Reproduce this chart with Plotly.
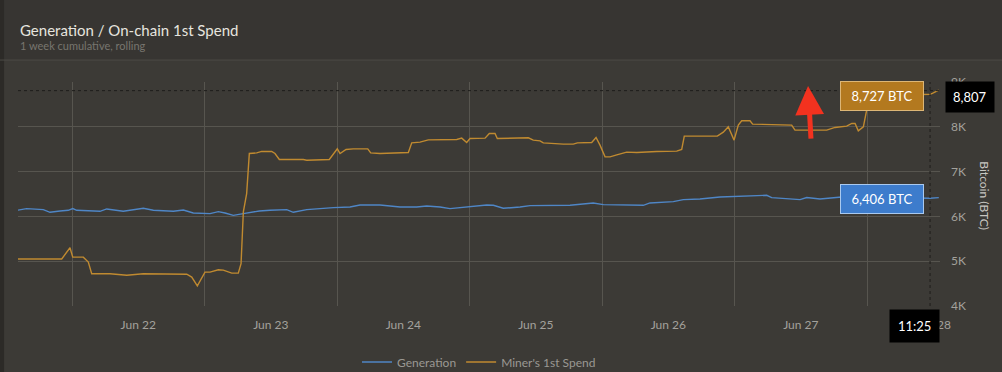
import plotly.graph_objects as go

# ---------------- data ----------------
spend_time = [
    "2023-06-21 14:00", "2023-06-21 22:08", "2023-06-21 23:38", "2023-06-22 00:08", "2023-06-22 02:03",
    "2023-06-22 02:57", "2023-06-22 03:34", "2023-06-22 06:53", "2023-06-22 09:55", "2023-06-22 12:55",
    "2023-06-22 20:47", "2023-06-22 21:41", "2023-06-22 22:42", "2023-06-23 00:05", "2023-06-23 01:00",
    "2023-06-23 02:30", "2023-06-23 03:24", "2023-06-23 04:56", "2023-06-23 06:07", "2023-06-23 06:37",
    "2023-06-23 07:02", "2023-06-23 07:38", "2023-06-23 08:07", "2023-06-23 09:27", "2023-06-23 10:21",
    "2023-06-23 12:10", "2023-06-23 12:46", "2023-06-23 13:33", "2023-06-23 17:54", "2023-06-23 18:31",
    "2023-06-23 22:36", "2023-06-24 00:03", "2023-06-24 00:33", "2023-06-24 01:38", "2023-06-24 02:57",
    "2023-06-24 05:34", "2023-06-24 06:06", "2023-06-24 07:47", "2023-06-24 12:55", "2023-06-24 13:32",
    "2023-06-24 15:02", "2023-06-24 16:32", "2023-06-24 21:41", "2023-06-24 22:35", "2023-06-24 23:29",
    "2023-06-25 00:05", "2023-06-25 02:49", "2023-06-25 03:35", "2023-06-25 04:37", "2023-06-25 05:02",
    "2023-06-25 10:39", "2023-06-25 11:33", "2023-06-25 12:46", "2023-06-25 13:22", "2023-06-25 16:59",
    "2023-06-25 18:48", "2023-06-25 19:32", "2023-06-25 22:08", "2023-06-25 22:55", "2023-06-25 23:38",
    "2023-06-26 00:33", "2023-06-26 01:27", "2023-06-26 02:40", "2023-06-26 04:28", "2023-06-26 06:17",
    "2023-06-26 09:54", "2023-06-26 13:32", "2023-06-26 14:26", "2023-06-26 14:54", "2023-06-26 15:38",
    "2023-06-26 20:53", "2023-06-26 21:58", "2023-06-26 22:52", "2023-06-26 23:55", "2023-06-27 00:41",
    "2023-06-27 01:18", "2023-06-27 02:48", "2023-06-27 03:17", "2023-06-27 10:21", "2023-06-27 10:57",
    "2023-06-27 16:42", "2023-06-27 18:12", "2023-06-27 20:19", "2023-06-27 21:14", "2023-06-27 21:50",
    "2023-06-27 22:25", "2023-06-27 23:20", "2023-06-27 23:49", "2023-06-28 00:30", "2023-06-28 06:00",
    "2023-06-28 11:25", "2023-06-28 11:50", "2023-06-28 13:00",
]
spend_btc = [
    5050, 5050, 5300, 5090, 5090,
    4980, 4720, 4720, 4685, 4720,
    4710, 4645, 4450, 4756, 4756,
    4810, 4800, 4734, 4734, 4944,
    6100, 6510, 7404, 7418, 7450,
    7450, 7404, 7270, 7270, 7255,
    7270, 7508, 7404, 7494, 7508,
    7508, 7418, 7404, 7427, 7642,
    7657, 7709, 7718, 7747, 7650,
    7740, 7747, 7852, 7852, 7740,
    7754, 7702, 7687, 7642, 7613,
    7613, 7642, 7651, 7762, 7590,
    7329, 7329, 7373, 7434, 7427,
    7450, 7456, 7494, 7791, 7791,
    7791, 7881, 8000, 7702, 8038,
    8134, 8134, 8060, 8038, 7926,
    7926, 7986, 8015, 8075, 8075,
    7910, 8000, 8299, 8700, 8710,
    8727, 8747, 8821,
]

gen_time = [
    "2023-06-21 14:00", "2023-06-21 15:47", "2023-06-21 18:48", "2023-06-21 20:01", "2023-06-21 21:50",
    "2023-06-21 23:20", "2023-06-22 00:08", "2023-06-22 00:51", "2023-06-22 05:04", "2023-06-22 06:17",
    "2023-06-22 09:17", "2023-06-22 12:55", "2023-06-22 14:44", "2023-06-22 18:21", "2023-06-22 20:10",
    "2023-06-22 21:58", "2023-06-23 01:00", "2023-06-23 02:30", "2023-06-23 03:43", "2023-06-23 05:13",
    "2023-06-23 07:02", "2023-06-23 09:56", "2023-06-23 11:52", "2023-06-23 14:53", "2023-06-23 16:05",
    "2023-06-23 18:31", "2023-06-23 23:20", "2023-06-24 02:21", "2023-06-24 04:10", "2023-06-24 07:47",
    "2023-06-24 11:25", "2023-06-24 14:26", "2023-06-24 16:15", "2023-06-24 18:40", "2023-06-24 20:28",
    "2023-06-25 00:05", "2023-06-25 03:07", "2023-06-25 04:19", "2023-06-25 06:07", "2023-06-25 09:09",
    "2023-06-25 10:58", "2023-06-25 18:12", "2023-06-25 21:14", "2023-06-25 22:25", "2023-06-26 00:14",
    "2023-06-26 07:29", "2023-06-26 08:41", "2023-06-26 12:55", "2023-06-26 14:43", "2023-06-26 17:45",
    "2023-06-26 21:22", "2023-06-27 01:00", "2023-06-27 05:50", "2023-06-27 06:44", "2023-06-27 09:27",
    "2023-06-27 11:52", "2023-06-27 13:05", "2023-06-27 15:29", "2023-06-27 19:25", "2023-06-28 00:30",
    "2023-06-28 06:00", "2023-06-28 11:25", "2023-06-28 13:00",
]
gen_btc = [
    6136, 6174, 6152, 6092, 6121,
    6136, 6174, 6136, 6114, 6166,
    6114, 6181, 6136, 6114, 6143,
    6076, 6062, 6107, 6076, 6024,
    6062, 6121, 6136, 6152, 6092,
    6152, 6196, 6210, 6255, 6255,
    6210, 6210, 6233, 6210, 6174,
    6210, 6255, 6248, 6181, 6210,
    6241, 6248, 6286, 6300, 6263,
    6248, 6300, 6330, 6375, 6390,
    6434, 6449, 6471, 6420, 6405,
    6375, 6420, 6390, 6434, 6420,
    6410, 6406, 6420,
]

x_range = ["2023-06-21 14:13", "2023-06-28 13:13"]
y_range = [4000, 9000]
y_ticks = [4000, 5000, 6000, 7000, 8000, 9000]
y_ticktext = ["4K", "5K", "6K", "7K", "8K", "9K"]
x_label_pos = ["2023-06-22 12:00", "2023-06-23 12:00", "2023-06-24 12:00", "2023-06-25 12:00",
               "2023-06-26 12:00", "2023-06-27 12:00", "2023-06-28 12:00"]
x_label_text = ["Jun 22", "Jun 23", "Jun 24", "Jun 25", "Jun 26", "Jun 27", "Jun 28"]
x_grid = ["2023-06-22", "2023-06-23", "2023-06-24", "2023-06-25", "2023-06-26", "2023-06-27", "2023-06-28"]

hover_time = "2023-06-28 11:25"
hover_label = "11:25"
hover_spend = 8727
hover_gen = 6406
cursor_y = 8807
arrow_tip = ("2023-06-27 13:19", 8910)

# ---------------- styling ----------------
BG = "#3c3a36"
GRID = "#57554f"
BLUE = "#4f86c6"
ORANGE = "#c08a30"
FONT = "Lato"

fig = go.Figure()
fig.add_trace(go.Scatter(x=gen_time, y=gen_btc, mode="lines", name="Generation",
                         line=dict(color=BLUE, width=1.4)))
fig.add_trace(go.Scatter(x=spend_time, y=spend_btc, mode="lines", name="Miner's 1st Spend",
                         line=dict(color=ORANGE, width=1.4)))

fig.update_layout(
    width=1002, height=372,
    margin=dict(l=18, r=62, t=82, b=66, autoexpand=False),
    paper_bgcolor=BG, plot_bgcolor=BG,
    font=dict(family=FONT, color="#a09e99", size=12),
    showlegend=True,
    legend=dict(orientation="h", x=0.5, xanchor="center", yref="container", y=0.027, yanchor="middle",
                font=dict(size=12, color="#9a9893"), bgcolor="rgba(0,0,0,0)"),
    hovermode=False,
)

fig.update_xaxes(
    type="date", range=x_range, automargin=False,
    tickmode="array", tickvals=x_label_pos, ticktext=x_label_text,
    showgrid=False, zeroline=False, showline=False, ticks="",
    tickfont=dict(size=12, color="#a3a19c"), ticklabelstandoff=10,
    minor=dict(tickmode="array", tickvals=x_grid, showgrid=True, gridcolor=GRID, gridwidth=1, ticks=""),
)
fig.update_yaxes(
    range=y_range, side="right", automargin=False,
    tickmode="array", tickvals=y_ticks, ticktext=y_ticktext,
    showgrid=True, gridcolor=GRID, gridwidth=1, zeroline=False, showline=False, ticks="",
    tickfont=dict(size=12, color="#a3a19c"), ticklabelstandoff=10,
)

# y-axis title, reading top to bottom as in the original
fig.add_annotation(text="Bitcoin (BTC)", xref="paper", yref="paper", x=1, y=0.494,
                   xanchor="center", yanchor="middle", xshift=45, textangle=90, showarrow=False,
                   font=dict(size=12, color="#c9c7c2", family=FONT))

# header band and separator
fig.add_shape(type="rect", xref="paper", yref="paper", x0=-0.05, x1=1.1, y0=1.098, y1=1.5,
              fillcolor="#373532", line=dict(width=0), layer="below")
fig.add_shape(type="line", xref="paper", yref="paper", x0=-0.05, x1=1.1, y0=1.098, y1=1.098,
              line=dict(color="#4c4a46", width=1))
fig.add_shape(type="rect", xref="paper", yref="paper", x0=-0.0195, x1=-0.0151, y0=-0.4, y1=1.5,
              fillcolor="#2c2a27", line=dict(width=0), layer="below")

# crosshair
fig.add_shape(type="line", xref="x", yref="paper", x0=hover_time, x1=hover_time, y0=0, y1=1,
              line=dict(color="#1e1d1b", width=1, dash="dot"))
fig.add_shape(type="line", xref="paper", yref="y", x0=0, x1=1, y0=cursor_y, y1=cursor_y,
              line=dict(color="#1e1d1b", width=1, dash="dot"))

# titles
fig.add_annotation(text="Generation / On-chain 1st Spend", xref="paper", yref="paper", x=0, y=1.232,
                   xanchor="left", yanchor="middle", showarrow=False,
                   font=dict(size=15, color="#e6e4df", family=FONT))
fig.add_annotation(text="1 week cumulative, rolling", xref="paper", yref="paper", x=0, y=1.165,
                   xanchor="left", yanchor="middle", showarrow=False,
                   font=dict(size=11, color="#77756f", family=FONT))

# tooltips
fig.add_annotation(text=f"{hover_spend:,} BTC", x=hover_time, y=hover_spend, xref="x", yref="y",
                   xanchor="right", yanchor="middle", xshift=-6, yshift=-2, showarrow=False,
                   bgcolor="#b3791f", bordercolor="#dcb676", borderwidth=1, borderpad=6,
                   font=dict(size=13, color="#ffffff", family=FONT), width=70)
fig.add_annotation(text=f"{hover_gen:,} BTC", x=hover_time, y=hover_gen, xref="x", yref="y",
                   xanchor="right", yanchor="middle", xshift=-6, yshift=-1, showarrow=False,
                   bgcolor="#3d7ccc", bordercolor="#a9c9ef", borderwidth=1, borderpad=6,
                   font=dict(size=13, color="#ffffff", family=FONT), width=70)
fig.add_annotation(text=f"{cursor_y:,}", x=1, y=cursor_y, xref="paper", yref="y",
                   xanchor="left", yanchor="middle", xshift=5, yshift=-6, showarrow=False,
                   bgcolor="#000000", borderpad=7,
                   font=dict(size=13, color="#ffffff", family=FONT))
fig.add_annotation(text=hover_label, x=hover_time, y=0, xref="x", yref="paper",
                   xanchor="center", yanchor="top", xshift=-16, yshift=-3, showarrow=False,
                   bgcolor="#000000", borderpad=8,
                   font=dict(size=13, color="#ffffff", family=FONT))

# red arrow
fig.add_annotation(text="", x=arrow_tip[0], y=arrow_tip[1], xref="x", yref="y",
                   ax=3, ay=54, showarrow=True, arrowhead=2, arrowsize=1.15, arrowwidth=5,
                   arrowcolor="#f3321f")

fig.write_html("out.html", config={"displayModeBar": False},
               post_script="document.body.style.margin='0';document.body.style.background='#3c3a36';")
